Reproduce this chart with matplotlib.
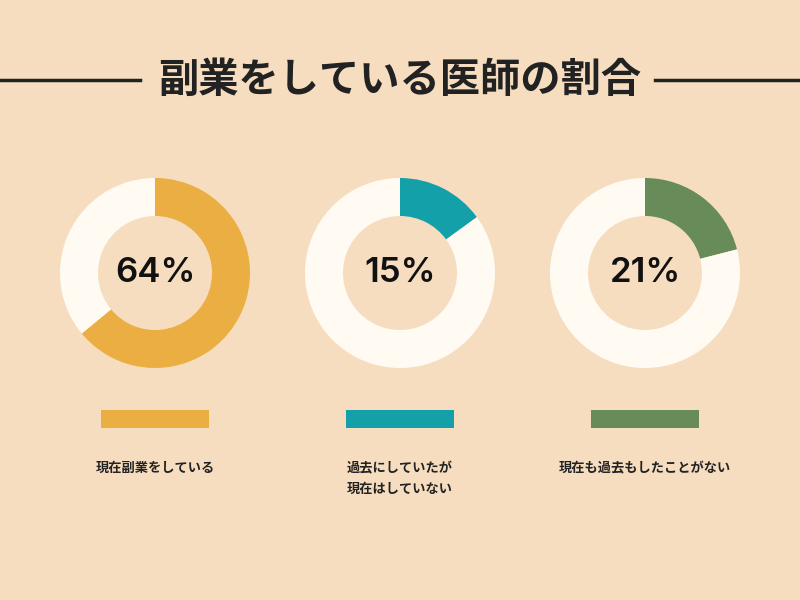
import matplotlib

matplotlib.use("Agg")

import matplotlib.pyplot as plt

plt.rcParams["font.family"] = ["Noto Sans CJK JP", "DejaVu Sans"]

BG = "#F7DDC0"
REST = "#FFFBF2"

TITLE = "副業をしている医師の割合"
labels = ["現在副業をしている", "過去にしていたが\n現在はしていない", "現在も過去もしたことがない"]
shares = [64, 15, 21]
colors = ["#EBAE42", "#14A0A8", "#688B5A"]
centers_x = [155, 400, 645]

fig = plt.figure(figsize=(8, 6), dpi=100, facecolor=BG)
ax = fig.add_axes([0, 0, 1, 1])
ax.set_facecolor(BG)

for cx, share, color, label in zip(centers_x, shares, colors, labels):
    ax.pie(
        [share, 100 - share],
        colors=[color, REST],
        center=(cx, 600 - 273),
        radius=95,
        startangle=90,
        counterclock=False,
        wedgeprops=dict(width=38, linewidth=0),
    )
    ax.text(cx, 600 - 273, f"{share}%", ha="center", va="center",
            fontsize=25, fontweight="semibold", color="#111111", family="Inter")
    ax.barh(600 - 419, 108, left=cx - 54, height=18, color=color)
    ax.text(cx, 600 - 461, label, ha="center", va="top",
            fontsize=9.5, fontweight="bold", color="#222222", linespacing=1.6)

ax.text(400, 600 - 80, TITLE, ha="center", va="center",
        fontsize=29, fontweight="bold", color="#222222")
ax.plot([0, 140], [520, 520], color="#222222", lw=2.5)
ax.plot([655, 800], [520, 520], color="#222222", lw=2.5)

ax.set_xlim(0, 800)
ax.set_ylim(0, 600)
ax.set_aspect("auto")
ax.axis("off")

fig.savefig("out.png", dpi=100, facecolor=BG)
